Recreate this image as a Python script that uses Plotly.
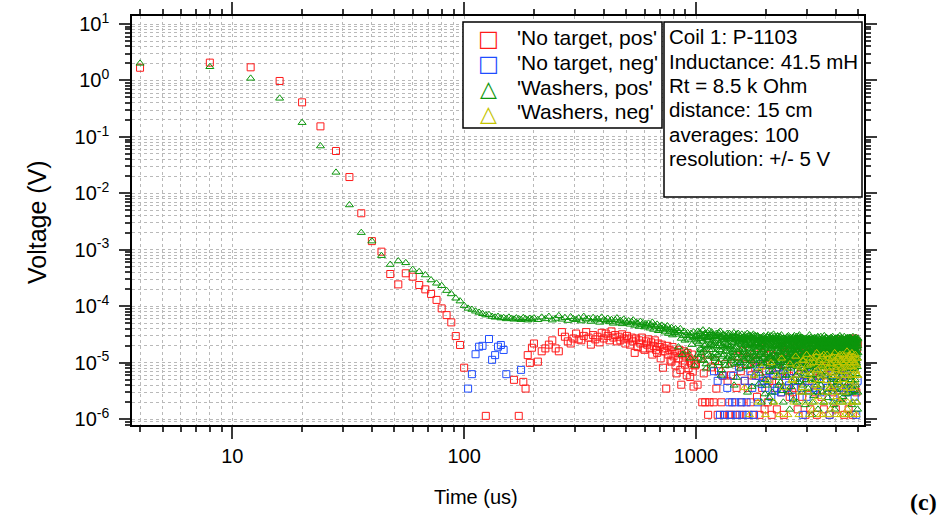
import plotly.graph_objects as go

# ---------------------------------------------------------------------------
# Sampling time bases (us); the scope records every 4 us
# ---------------------------------------------------------------------------
T_EARLY = list(range(4, 100, 4))        # 4 .. 96 us, every sample
T_MID1 = list(range(100, 200, 4))       # 100 .. 196 us, every sample
T_MID2 = list(range(200, 1000, 8))      # 200 .. 992 us
T_LATE16 = list(range(1000, 5000, 16))  # 1000 .. 4984 us
T_LATE8 = list(range(1000, 5000, 8))    # 1000 .. 4992 us
T_LATE8B = list(range(1004, 5000, 8))   # 1004 .. 4996 us

# ---------------------------------------------------------------------------
# 'No target, pos'
# ---------------------------------------------------------------------------
RED_EARLY_V = [1.68, 2.07, 1.71, 0.98, 0.41, 0.154, 0.0564, 0.0195, 0.00445,
               0.00143, 0.00093, 3.74e-4, 2.45e-4, 3.85e-4, 3.35e-4, 2.39e-4,
               2.0e-4, 1.66e-4, 1.30e-4, 9.2e-5, 7.0e-5, 5.2e-5, 2.98e-5, 2.07e-5]
RED_MID1_UV = [8.2, None, None, None, None, None, 1.15, None, None, None,
               None, None, None, None, None, None, 5.0, None, 1.15, None,
               4.6, 3.5, 13.7, 10, 18.5]
RED_MID2_UV = [22, 10.5, 16, 18, 21, 25, 18, 16, 35, 29,
               24, 22, 27, 33, 26, 25, 30, 35, 28, 21,
               31, 26, 29, 23, 34, 27, 33, 30, 25, 36,
               28, 31, 24, 29, 25, 32, 27, 22, 30, 26,
               21, 28, 24, 15, 27, 19, 25, 22, 28, 18,
               17, 24, 21, 26, 18, 23, 14, 20, 25, 17,
               15, 22, 19, 12, 21, 8.2, 18, 16, 3.5, 20,
               14, 17, 11, 10.5, 19, 13, 16, 9, 6.5, 15,
               12, 17, 7.5, 4.1, 14, 11, 16, 9.3, 13, 6,
               15, 8, 12, 5.6, 10, 14, 7, 3.8, 11, 9]
RED_LATE_UV = [
    9.5, 4.1, None, 12, 2.0, 6.5, 2.0, 14, 1.2, 2.0, 8.3, None, 2.0, 11, 3.5, 1.2, 7.1, None, 2.0, 5.9, 1.2, 9.5, None, 4.8, 1.2,
    1.2, 6.0, 2.0, None, 10, 1.2, 3.6, 13, None, 1.2, 7.1, 2.0, 16, None, 4.8, 1.2, 9.5, 3.6, None, 12, 2.0, 6.0, None, 1.2, 14,
    8.3, None, 2.5, 11, 5.9, 1.2, None, 15, 3.6, 9.5, None, 1.5, 18, 7.1, None, 2.0, 12, 4.8, None, 14, 1.2, 10, 6.0, None, 3.6,
    13, None, 1.5, 8.3, 17, 4.8, None, 11, 3.0, 19, None, 7.1, 1.2, 15, 9.5, None, 3.6, 12, 21, None, 5.9, 2.5, 16, None, 10,
    3.0, 14, None, 7.1, 18, 3.6, None, 12, 20, 1.5, None, 9.5, 16, 4.8, None, 22, 8.3, 2.5, None, 13, 17, 6.0, None, 1.2, 19,
    11, None, 15, 3.6, 21, None, 8.3, 1.5, 17, 12, None, 4.8, 19, None, 9.5, 23, 3.0, None, 14, 7.1, 1.2, None, 18, 10, 16,
    None, 5.9, 20, 13, None, 2.5, 16, 9.5, None, 22, 1.5, 12, None, 18, 6.0, 14, None, 3.6, 21, 11, None, 8.3, 17, 1.2, None,
    15, 24, None, 7.1, 19, 3.0, None, 13, 21, 4.8, None, 16, 10, 1.5, None, 22, 12, 3.6, None, 18, 8.3, None, 25, 14, 6.0,
    None, 20, 11, 2.5, None, 17, 23, 5.9, None, 13, 1.2, 19, None, 9.5, 24, 3.6, None, 15, 21, 7.1, None, 12, 1.5, 26, None,
    18, 10, None, 22, 4.8, 16, None, 25, 8.3, 1.2, None, 20, 13, 27, None, 3.6, 19, 23, None, 11, 3.0, 24, 17, None, 21,
]

# ---------------------------------------------------------------------------
# 'No target, neg'  (time us, voltage uV) - only the samples above zero
# ---------------------------------------------------------------------------
BLUE_POINTS_UV = [
    (104, 3.5), (108, 6.3), (112, 14.2), (116, 19.3), (120, 20), (128, 26.4),
    (132, 11.3), (136, 13.7), (140, 19.3), (144, 20.7), (148, 16.9), (152, 6.3),
    (176, 7.5),
    (1196, 7.1), (1240, 4.8), (1268, 1.2), (1300, 6.0), (1332, 1.2), (1364, 3.6),
    (1392, 2.0), (1420, 1.2), (1448, 5.9), (1476, 2.0), (1504, 1.2), (1532, 8.3),
    (1560, 2.0), (1588, 1.2), (1620, 4.8), (1652, 2.0), (1684, 1.2), (1716, 7.1),
    (1748, 3.6), (1780, 1.2), (1812, 5.9), (1848, 2.0), (1884, 9.5), (1920, 4.2),
    (1956, 4.8), (1992, 3.6), (2032, 5.0), (2072, 7.1), (2112, 2.5), (2152, 6.0),
    (2196, 3.2), (2240, 3.6), (2284, 8.3), (2328, 3.0), (2376, 6.5), (2424, 5.9),
    (2472, 3.6), (2520, 4.0), (2568, 7.1), (2620, 2.5), (2672, 4.8), (2724, 5.5),
    (2776, 9.5), (2832, 3.6), (2888, 1.2), (2944, 6.0), (3000, 2.5), (3060, 4.8),
    (3120, 6.8), (3180, 8.3), (3240, 3.6), (3304, 3.3), (3368, 5.9), (3432, 3.0),
    (3496, 7.1), (3564, 5.2), (3632, 4.8), (3700, 3.6), (3768, 1.2), (3840, 6.0),
    (3912, 2.5), (3984, 9.5), (4056, 4.4), (4128, 4.8), (4204, 3.6), (4280, 6.2),
    (4356, 7.1), (4432, 3.0), (4512, 5.9), (4592, 3.1), (4672, 3.6), (4752, 8.3),
    (4832, 2.5), (4912, 1.2), (4980, 4.8),
]

# ---------------------------------------------------------------------------
# 'Washers, pos'
# ---------------------------------------------------------------------------
GREEN_EARLY_V = [2.01, 1.75, 1.09, 0.483, 0.179, 0.069, 0.0236, 0.00624, 0.00202,
                 0.00143, 7.9e-4, 5.5e-4, 6.35e-4, 5.9e-4, 4.5e-4, 4.1e-4,
                 3.59e-4, 2.93e-4, 2.56e-4, 2.32e-4, 1.90e-4, 1.66e-4, 1.39e-4, 1.24e-4]
GREEN_MID1_UV = [103, 92, 88, 82, 78, 74, 70, 71, 66, 64, 66, 62, 63, 60, 64,
                 61, 59, 62, 60, 58, 63, 60, 57, 61, 59]
GREEN_MID2_UV = [62, 58, 64, 60, 66, 57, 61, 68, 59, 63, 56, 65, 60,
                 58, 62, 55, 66, 59, 61, 54, 63, 57, 60, 52, 64, 58,
                 55, 61, 53, 58, 50, 57, 62, 52, 56, 49, 59, 54, 51,
                 55, 48, 53, 57, 46, 52, 50, 44, 54, 47, 51, 43, 49,
                 45, 50, 41, 47, 52, 39, 46, 43, 48, 37, 44, 40, 46,
                 38, 43, 35, 41, 45, 33, 39, 36, 42, 31, 38, 34, 40,
                 32, 37, 19, 35, 40, 27, 14, 30, 36, 25, 31, 16, 34,
                 26, 30, 12, 33, 21, 28, 35, 9, 29]
GREEN_LATE_UV = [
    30, 24, 36, 12, 27, 33, 17, 15, 29, 38, 11, 20, 31, 9.5, 26, 34, 14, 28, 17, 32, 21, 35, 13, 9.0, 30,
    22, 29, 12, 33, 25, 14, 31, 10, 20, 36, 16, 7.5, 28, 13, 32, 19, 26, 11, 16, 29, 21, 12, 30, 9.0, 33,
    19, 27, 11, 23, 13, 29, 15, 34, 18, 9.5, 30, 26, 5.5, 28, 12, 33, 24, 17, 10, 27, 10, 23, 32, 14, 26,
    28, 16, 11, 31, 21, 13, 8.5, 25, 33, 12, 23, 29, 14, 9.0, 22, 30, 18, 11, 3.8, 28, 15, 32, 20, 11, 27,
    13, 30, 17, 9.5, 22, 29, 13, 25, 4.2, 20, 27, 6.5, 15, 19, 28, 10, 21, 16, 26, 12, 30, 9.5, 25, 2.8, 14,
    20, 10, 24, 4.0, 29, 12, 31, 18, 8.5, 2.4, 28, 13, 26, 12, 23, 9.0, 19, 27, 14, 2.0, 32, 11, 7.0, 26, 20,
    25, 12, 28, 16, 5.5, 9.5, 30, 20, 11, 10, 27, 15, 19, 29, 4.5, 13, 21, 31, 8.5, 24, 3.2, 13, 22, 10, 19,
    27, 11, 16, 25, 9.0, 12, 23, 6.0, 28, 14, 8.0, 26, 10, 30, 17, 13, 27, 1.5, 24, 11, 25, 3.8, 15, 9.5, 26,
    18, 12, 28, 9.0, 2.2, 26, 14, 30, 16, 10, 27, 19, 6.0, 25, 13, 29, 14, 8.5, 20, 27, 4.6, 16, 26, 12, 31,
    23, 10, 26, 13, 28, 15, 9.5, 17, 3.0, 24, 12, 20, 11, 6.5, 27, 8.0, 10, 26, 14, 25, 1.8, 12, 5.0, 24, 9.0,
    26, 11, 15, 24, 8.5, 18, 3.5, 27, 12, 25, 9.5, 31, 16, 10, 7.5, 26, 13, 24, 5.2, 14, 11, 1.2, 25, 15, 27,
    17, 9.0, 26, 2.6, 24, 9.5, 28, 11, 16, 25, 12, 6.2, 27, 8.0, 24, 4.0, 19, 14, 10, 29, 1.5, 21, 12, 11, 24,
    22, 13, 18, 9.0, 14, 26, 4.8, 29, 16, 6.5, 25, 10, 22, 12, 3.0, 24, 8.5, 26, 15, 2.0, 25, 11, 30, 16, 9.5,
    26, 15, 10, 20, 28, 5.8, 13, 21, 8.5, 27, 14, 8.5, 25, 2.4, 24, 16, 14, 9.5, 26, 12, 3.5, 23, 10, 18, 13,
    21, 12, 17, 28, 9.0, 4.4, 24, 13, 26, 15, 8.0, 29, 5.5, 14, 25, 11, 1.8, 12, 22, 9.5, 16, 1.5, 26, 10, 23,
    24, 11, 27, 14, 9.5, 26, 3.4, 9.0, 18, 12, 28, 16, 10, 19, 4.5, 24, 12, 6.8, 8.5, 25, 17, 11, 30, 2.2, 15,
    19, 10, 22, 16, 28, 12, 7.0, 24, 11, 9.0, 23, 3.6, 27, 14, 2.5, 17, 10, 26, 15, 8.0, 29, 5.2, 20, 10, 25,
    12, 17, 25, 9.5, 13, 27, 10, 2.8, 24, 6.0, 14, 21, 28, 15, 11, 4.2, 25, 11, 8.5, 1.2, 27, 13, 16, 9.0, 26,
    20, 11, 14, 23, 28, 9.5, 5.6, 8.0, 26, 12, 17, 21, 1.8, 10, 20, 3.0, 25, 13, 9.0, 29, 15, 4.0, 26, 10, 18,
    13, 24, 10, 27, 3.2, 9.0, 25, 5.0, 15, 26, 11, 16, 28, 9.5, 6.4, 24, 14, 2.0, 19, 12, 22, 8.5, 1.5, 20, 27,
]
GREEN_LATE_B_UV = [
    26, 31, 14, 22, 35, 18, 27, 11, 24, 30, 16, 33, 21, 8, 28, 19, 25, 37, 13, 29, 23, 17, 32, 20, 12,
    24, 15, 30, 19, 27, 10, 34, 22, 17, 29, 6, 25, 20, 31, 14, 26, 23, 9, 28, 18, 33, 21, 13, 27, 16,
    29, 20, 12, 26, 31, 17, 23, 4, 28, 14, 25, 19, 32, 10, 22, 27, 15, 24, 30, 8, 21, 26, 13, 18, 28,
    17, 25, 29, 11, 22, 27, 14, 20, 3, 26, 18, 31, 12, 24, 21, 9, 28, 16, 23, 30, 13, 19, 6, 25, 22,
    27, 12, 21, 25, 16, 30, 8, 23, 19, 14, 28, 22, 11, 26, 2, 24, 17, 29, 13, 21, 10, 27, 18, 5, 24,
    14, 26, 19, 23, 10, 28, 15, 22, 27, 12, 7, 25, 18, 30, 13, 21, 3, 26, 16, 24, 11, 29, 20, 9, 23,
    21, 13, 27, 9, 24, 18, 29, 12, 22, 4, 26, 16, 20, 11, 28, 15, 25, 7, 23, 19, 13, 27, 2, 21, 17,
    12, 24, 18, 27, 14, 21, 6, 25, 10, 29, 17, 22, 13, 3, 26, 19, 11, 24, 16, 28, 8, 20, 14, 23, 18,
    25, 9, 21, 16, 28, 12, 23, 19, 5, 26, 14, 20, 10, 27, 17, 2, 24, 13, 22, 18, 11, 29, 7, 21, 15,
    19, 27, 11, 23, 15, 8, 25, 20, 13, 28, 17, 4, 22, 12, 26, 18, 10, 24, 15, 21, 6, 27, 14, 19, 12,
    23, 14, 20, 10, 26, 17, 3, 22, 12, 27, 15, 19, 9, 24, 13, 28, 6, 21, 16, 11, 25, 18, 2, 22, 14,
    11, 25, 16, 21, 8, 27, 13, 19, 24, 5, 17, 22, 10, 26, 14, 20, 12, 3, 23, 15, 28, 9, 19, 13, 24,
    20, 12, 26, 15, 9, 23, 18, 4, 25, 11, 21, 14, 27, 7, 19, 13, 24, 10, 22, 16, 2, 26, 12, 18, 21,
    15, 22, 10, 25, 17, 13, 28, 6, 20, 12, 24, 16, 3, 21, 11, 26, 14, 19, 9, 23, 13, 27, 8, 18, 22,
    25, 11, 19, 14, 24, 5, 21, 16, 27, 10, 18, 13, 22, 2, 25, 12, 17, 20, 8, 24, 15, 11, 26, 4, 19,
    13, 23, 17, 9, 26, 12, 20, 15, 3, 22, 18, 11, 25, 14, 7, 21, 16, 27, 10, 19, 13, 24, 5, 17, 22,
    18, 10, 24, 14, 21, 6, 27, 12, 19, 16, 2, 23, 11, 25, 15, 9, 22, 13, 20, 26, 8, 17, 12, 24, 14,
    22, 15, 11, 26, 13, 19, 4, 24, 16, 21, 10, 27, 14, 18, 7, 23, 12, 25, 15, 3, 20, 11, 28, 16, 13,
    14, 24, 19, 10, 27, 16, 12, 21, 5, 25, 13, 18, 22, 9, 26, 15, 2, 20, 11, 24, 17, 13, 23, 8, 19,
    21, 12, 25, 17, 8, 23, 14, 19, 11, 27, 4, 22, 15, 13, 25, 10, 20, 16, 6, 24, 12, 18, 26, 3, 15,
]

# ---------------------------------------------------------------------------
# 'Washers, neg'  (time us, voltage uV) - only the samples above zero
# ---------------------------------------------------------------------------
YELLOW_POINTS_UV = [
    (1620, 3.6), (1700, 1.2), (1780, 6.0), (1852, 2.0), (1920, 8.3), (1992, 1.2),
    (2052, 4.8), (2108, 10), (2172, 2.0), (2228, 6.0), (2292, 1.2), (2340, 12),
    (2388, 3.6), (2440, 7.1), (2492, 1.2), (2540, 9.5), (2588, 4.8), (2600, 5.0),
    (2640, 2.0), (2692, 13), (2720, 9.0), (2736, 6.0), (2780, 1.2), (2800, 3.0),
    (2824, 8.3), (2868, 3.6), (2880, 11), (2912, 11), (2940, 7.0), (2956, 2.0),
    (3000, 14), (3020, 9.0), (3040, 5.9), (3060, 3.0), (3080, 1.2), (3100, 12),
    (3120, 9.5), (3140, 6.5), (3160, 4.8), (3180, 1.5), (3200, 12), (3220, 10),
    (3240, 2.0), (3260, 4.0), (3280, 7.1), (3300, 13), (3316, 15), (3336, 7.5),
    (3352, 3.6), (3372, 2.5), (3388, 10), (3408, 11), (3424, 1.2), (3444, 5.0),
    (3460, 6.0), (3480, 9.0), (3496, 13), (3516, 1.2), (3532, 8.3), (3552, 14),
    (3568, 2.0), (3588, 6.5), (3604, 11), (3624, 3.0), (3640, 4.8), (3660, 10),
    (3676, 14), (3696, 8.0), (3712, 1.2), (3732, 12), (3748, 7.1), (3768, 4.0),
    (3784, 9.5), (3804, 1.5), (3820, 3.6), (3840, 9.5), (3856, 12), (3876, 13),
    (3892, 5.9), (3912, 6.5), (3928, 2.0), (3948, 3.0), (3964, 15), (3984, 11),
    (4000, 8.3), (4016, 7.5), (4032, 1.2), (4048, 2.5), (4064, 10), (4080, 12),
    (4096, 4.8), (4112, 9.0), (4128, 13), (4144, 4.0), (4160, 6.0), (4176, 14),
    (4192, 2.0), (4208, 1.2), (4224, 11), (4240, 8.0), (4256, 7.1), (4272, 10),
    (4288, 14), (4304, 5.0), (4320, 3.6), (4336, 13), (4352, 9.5), (4368, 7.0),
    (4384, 1.2), (4400, 3.0), (4416, 12), (4432, 11), (4448, 5.9), (4464, 9.0),
    (4480, 16), (4496, 1.5), (4512, 2.0), (4528, 12), (4544, 8.3), (4560, 6.0),
    (4576, 13), (4592, 14), (4608, 4.8), (4624, 3.5), (4640, 10), (4656, 8.5),
    (4672, 1.2), (4688, 11), (4704, 15), (4720, 2.0), (4736, 6.0), (4752, 13),
    (4768, 11), (4784, 7.5), (4800, 3.6), (4816, 10), (4832, 9.5), (4848, 4.5),
    (4864, 14), (4880, 12), (4896, 7.1), (4912, 1.2), (4928, 2.0), (4944, 9.0),
    (4960, 12), (4976, 6.0), (4992, 5.9),
]

LEGEND_NAMES = ["'No target, pos'", "'No target, neg'", "'Washers, pos'", "'Washers, neg'"]
INFO_LINES = ["Coil 1: P-1103", "Inductance: 41.5 mH", "Rt = 8.5 k Ohm",
              "distance: 15 cm", "averages: 100", "resolution: +/- 5 V"]

X_MAJOR = [10, 100, 1000]
X_MINOR = [4, 5, 6, 7, 8, 9] + [m * 10 for m in range(2, 10)] + \
          [m * 100 for m in range(2, 10)] + [2000, 3000, 4000, 5000]
Y_MAJOR_EXP = list(range(-6, 2))
Y_MINOR = [m * 10.0 ** e for e in range(-7, 1) for m in range(2, 10)]

FONT = "Liberation Sans, Arial, sans-serif"
GRID = "#b9b9b9"
TICK = "#3a3a3a"


def uv_to_v(values):
    return [None if v is None else v * 1e-6 for v in values]


def unzip_uv(points):
    return [p[0] for p in points], [p[1] * 1e-6 for p in points]


# plot-area geometry in pixels (for the boxes and free labels)
W, H = 945, 518
L, R, T, B = 132, 864, 16, 425


def px(x):
    return (x - L) / (R - L)


def py(y):
    return (B - y) / (B - T)


red_x = T_EARLY + T_MID1 + T_MID2 + T_LATE16
red_y = RED_EARLY_V + uv_to_v(RED_MID1_UV + RED_MID2_UV + RED_LATE_UV)
green_x = T_EARLY + T_MID1 + T_MID2 + T_LATE8 + T_LATE8B
green_y = GREEN_EARLY_V + uv_to_v(GREEN_MID1_UV + GREEN_MID2_UV
                                  + GREEN_LATE_UV + GREEN_LATE_B_UV)
blue_x, blue_y = unzip_uv(BLUE_POINTS_UV)
yellow_x, yellow_y = unzip_uv(YELLOW_POINTS_UV)

# (x, y, marker symbol, legend glyph, colour)
series = [
    (red_x, red_y, "square-open", "\u25a1", "#ff1a1a"),
    (blue_x, blue_y, "square-open", "\u25a1", "#1f4dff"),
    (green_x, green_y, "triangle-up-open", "\u25b3", "#0c960c"),
    (yellow_x, yellow_y, "triangle-up-open", "\u25b3", "#c4c400"),
]

fig = go.Figure()
for name, (xs, ys, sym, _, col) in zip(LEGEND_NAMES, series):
    fig.add_trace(go.Scatter(
        x=xs, y=ys, mode="markers", name=name, showlegend=False,
        marker=dict(symbol=sym, size=7, color=col, line=dict(width=1, color=col)),
    ))

axis_common = dict(
    type="log", ticks="outside", tickcolor=TICK, tickwidth=1.5, automargin=False,
    showline=True, linecolor="black", linewidth=1.5, mirror="ticks",
    showgrid=True, gridcolor=GRID, griddash="dot", gridwidth=1,
    zeroline=False, tickfont=dict(family=FONT, size=20, color="black"),
)

fig.update_xaxes(
    **axis_common,
    range=[0.5674, 3.7246], tickmode="array", tickvals=X_MAJOR,
    ticktext=[str(v) for v in X_MAJOR], ticklen=12, ticklabelstandoff=0,
    minor=dict(tickmode="array", tickvals=X_MINOR, ticks="outside", ticklen=5,
               tickwidth=1.5, tickcolor=TICK, showgrid=True, gridcolor=GRID,
               griddash="dot", gridwidth=1),
)
fig.update_yaxes(
    **axis_common,
    range=[-6.101, 1.1417], tickmode="array",
    tickvals=[10.0 ** e for e in Y_MAJOR_EXP],
    ticktext=[f"10<sup>{e}</sup>" for e in Y_MAJOR_EXP],
    ticklen=11, ticklabelstandoff=6,
    minor=dict(tickmode="array", tickvals=Y_MINOR, ticks="outside", ticklen=5,
               tickwidth=1.5, tickcolor=TICK, showgrid=True, gridcolor=GRID,
               griddash="dot", gridwidth=1),
)

# legend box and information box
for x0, x1, y0, y1 in [(463, 662, 22, 128), (664, 862, 22, 197)]:
    fig.add_shape(type="rect", xref="paper", yref="paper",
                  x0=px(x0), x1=px(x1), y0=py(y1), y1=py(y0),
                  line=dict(color="black", width=1.5), fillcolor="white", layer="above")

annotations = []
for i, (name, s) in enumerate(zip(LEGEND_NAMES, series)):
    glyph, col = s[3], s[4]
    annotations.append(dict(
        text=glyph, xref="paper", yref="paper", x=px(488), y=py(38 + 25.2 * i),
        xanchor="center", yanchor="middle", showarrow=False,
        font=dict(family="DejaVu Sans", size=22, color=col),
    ))
    annotations.append(dict(
        text=name, xref="paper", yref="paper", x=px(515), y=py(37.5 + 24.8 * i),
        xanchor="left", yanchor="middle", showarrow=False,
        font=dict(family=FONT, size=21, color="black"),
    ))

for i, line in enumerate(INFO_LINES):
    annotations.append(dict(
        text=line, xref="paper", yref="paper", x=px(667), y=py(37 + 24.3 * i),
        xanchor="left", yanchor="middle", showarrow=False,
        font=dict(family=FONT, size=20.5, color="black"),
    ))

annotations += [
    dict(text="Voltage (V)", xref="paper", yref="paper", x=px(37), y=py(222),
         textangle=-90, showarrow=False, xanchor="center", yanchor="middle",
         font=dict(family=FONT, size=25, color="black")),
    dict(text="Time (us)", xref="paper", yref="paper", x=px(476), y=py(497),
         showarrow=False, xanchor="center", yanchor="middle",
         font=dict(family=FONT, size=20, color="black")),
    dict(text="<b>(c)</b>", xref="paper", yref="paper", x=px(923), y=py(502),
         showarrow=False, xanchor="center", yanchor="middle",
         font=dict(family="Liberation Serif, Times New Roman, serif", size=24, color="black")),
]

fig.update_layout(
    width=W, height=H, margin=dict(l=L, r=W - R, t=T, b=H - B, autoexpand=False),
    paper_bgcolor="white", plot_bgcolor="white",
    showlegend=False,
    annotations=annotations,
)

fig.write_html("out.html")
